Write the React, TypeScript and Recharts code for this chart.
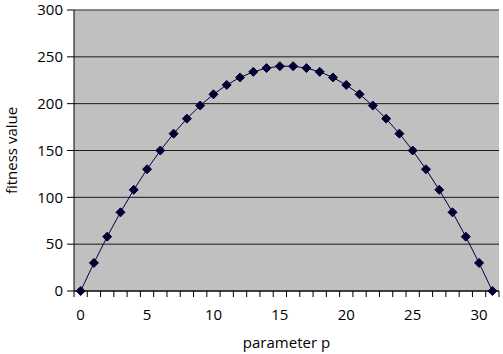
import { LineChart, Line, XAxis, YAxis, CartesianGrid, ReferenceLine, Label } from "recharts";

const params = [0, 1, 2, 3, 4, 5, 6, 7, 8, 9, 10, 11, 12, 13, 14, 15, 16, 17, 18, 19, 20, 21, 22, 23, 24, 25, 26, 27, 28, 29, 30, 31];
const fitness = [0, 30, 58, 84, 108, 130, 150, 168, 184, 198, 210, 220, 228, 234, 238, 240, 240, 238, 234, 228, 220, 210, 198, 184, 168, 150, 130, 108, 84, 58, 30, 0];
const xLabelTicks = [0, 5, 10, 15, 20, 25, 30];
const xMarkTicks = [-0.5, 0.5, 1.5, 2.5, 3.5, 4.5, 5.5, 6.5, 7.5, 8.5, 9.5, 10.5, 11.5, 12.5, 13.5, 14.5, 15.5, 16.5, 17.5, 18.5, 19.5, 20.5, 21.5, 22.5, 23.5, 24.5, 25.5, 26.5, 27.5, 28.5, 29.5, 30.5, 31.5];
const yTicks = [0, 50, 100, 150, 200, 250, 300];

const data = params.map((p, i) => ({ p, value: fitness[i] }));

const font = "'Open Sans', sans-serif";

const Diamond = (props: any) => {
  const { cx, cy } = props;
  if (cx == null || cy == null) return null;
  const r = 4.5;
  return (
    <polygon
      points={`${cx},${cy - r} ${cx + r},${cy} ${cx},${cy + r} ${cx - r},${cy}`}
      fill="#000033"
      stroke="#000033"
    />
  );
};

// tick marks only, no text
const NoText = () => <g />;

export default function App() {
  return (
    <div style={{ position: "fixed", left: 0, top: 0, background: "#fff" }}>
      <LineChart
        width={503}
        height={354}
        data={data}
        margin={{ top: 10, right: 4, left: 0, bottom: 0 }}
      >
        <CartesianGrid vertical={false} stroke="#1a1a1a" fill="#c0c0c0" yAxisId="y" xAxisId="labels" horizontalValues={yTicks} />
        <XAxis
          xAxisId="labels"
          dataKey="p"
          type="number"
          domain={[-0.5, 31.5]}
          ticks={xLabelTicks}
          interval={0}
          tickLine={false}
          axisLine={false}
          tickMargin={11}
          tick={{ fill: "#000", fontSize: 15, fontFamily: font }}
          height={62}
          allowDataOverflow
        >
          <Label value="parameter p" position="insideBottom" offset={6} style={{ fill: "#000", fontSize: 15, fontFamily: font }} />
        </XAxis>
        <XAxis
          xAxisId="a_marks"
          dataKey="p"
          type="number"
          domain={[-0.5, 31.5]}
          ticks={xMarkTicks}
          interval={0}
          tick={<NoText />}
          tickLine={{ stroke: "#000" }}
          tickSize={6}
          stroke="#000"
          height={1}
          allowDataOverflow
        />
        <YAxis
          yAxisId="y"
          domain={[0, 300]}
          ticks={yTicks}
          width={74}
          tickSize={7}
          tickMargin={4}
          stroke="#000"
          tick={{ fill: "#000", fontSize: 15, fontFamily: font }}
        >
          <Label value="fitness value" angle={-90} position="insideLeft" offset={12} style={{ fill: "#000", fontSize: 15, fontFamily: font, textAnchor: "middle" }} />
        </YAxis>
        <ReferenceLine y={300} yAxisId="y" xAxisId="labels" stroke="#888" />
        <Line
          xAxisId="labels"
          yAxisId="y"
          type="linear"
          dataKey="value"
          stroke="#000040"
          strokeWidth={1}
          dot={<Diamond />}
          isAnimationActive={false}
        />
      </LineChart>
    </div>
  );
}
